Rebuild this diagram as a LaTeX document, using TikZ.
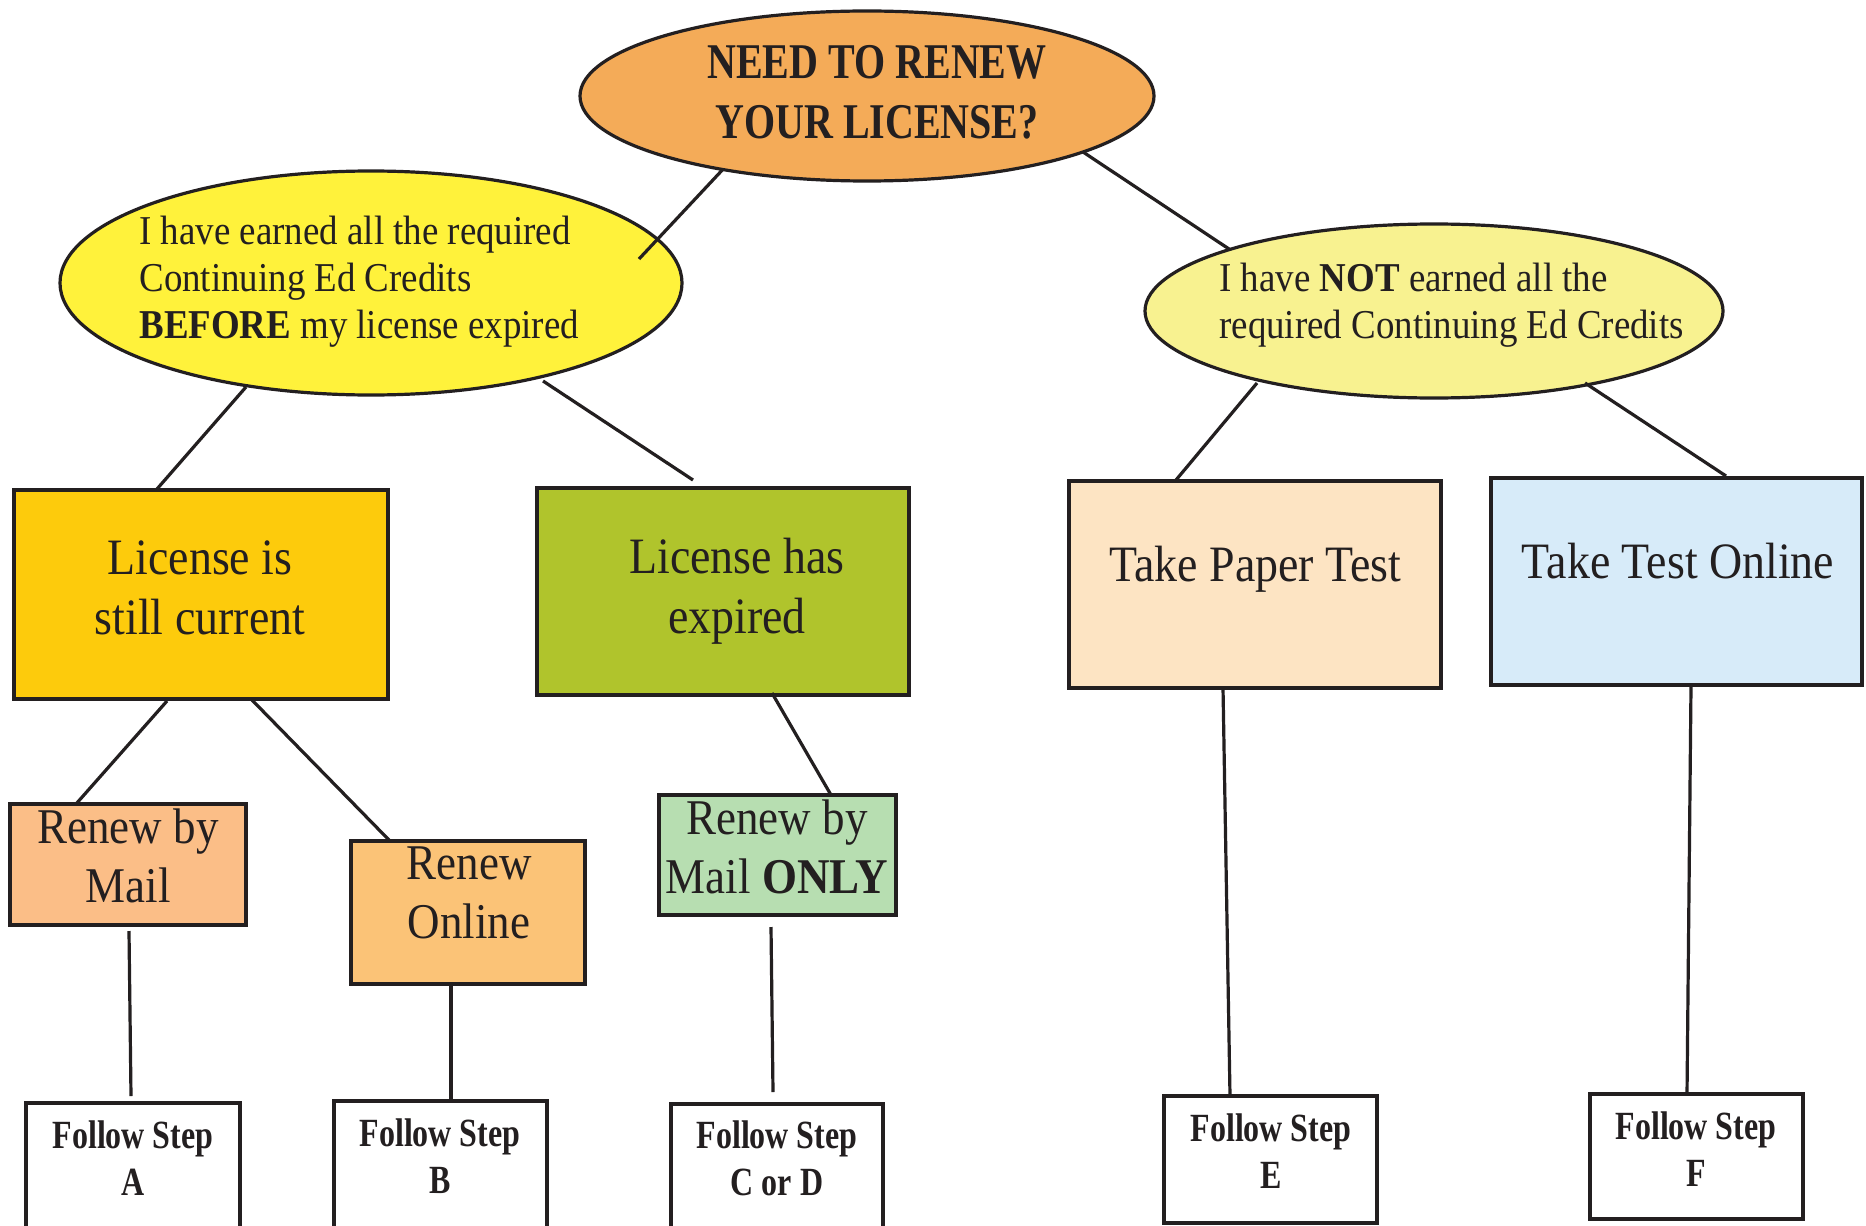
\documentclass[tikz,border=0pt]{standalone}
\usepackage{fontspec}
\setmainfont{Liberation Serif}[FakeStretch=0.9]
\newfontfamily\condfont{Liberation Serif}[FakeStretch=0.8]
\usetikzlibrary{shapes.geometric,calc}
\definecolor{ink}{HTML}{231F20}
\definecolor{cTop}{HTML}{F4AB58}
\definecolor{cYel}{HTML}{FFF23B}
\definecolor{cPale}{HTML}{F8F290}
\definecolor{cCur}{HTML}{FDCB0C}
\definecolor{cExp}{HTML}{B0C42C}
\definecolor{cPap}{HTML}{FDE4C3}
\definecolor{cOnl}{HTML}{D7EBF9}
\definecolor{cMail}{HTML}{FBBE87}
\definecolor{cRon}{HTML}{FBC377}
\definecolor{cOnly}{HTML}{B7DEB1}
\begin{document}
\begin{tikzpicture}[x=0.5pt,y=-0.5pt,
  ell/.style={ellipse, draw=ink, line width=1.6pt, inner sep=0pt, outer sep=0pt},
  boxshape/.style={rectangle, draw=ink, line width=1.6pt, inner sep=0pt, outer sep=0pt},
  link/.style={draw=ink, line width=1.6pt},
  txt/.style={inner sep=0pt, align=center, text=ink},
  bigtxt/.style={txt, font=\fontsize{25.5pt}{30pt}\selectfont},
  smalltxt/.style={txt, font=\fontsize{25pt}{29.5pt}\selectfont},
  elltxt/.style={txt, align=left, anchor=west, font=\fontsize{20.5pt}{23.5pt}\selectfont},
  steptxt/.style={txt, font=\condfont\bfseries\fontsize{20pt}{23.5pt}\selectfont}]
\useasboundingbox (0,0) rectangle (1866,1225);
\clip (0,0) rectangle (1866,1225);
\fill[white] (0,0) rectangle (1866,1225);

% ellipses
\node[ell, fill=cTop, minimum width=287pt, minimum height=85pt] (e0) at (867,96) {};
\node[ell, fill=cYel, minimum width=311pt, minimum height=112pt] (eL) at (371,283) {};
\node[ell, fill=cPale, minimum width=289pt, minimum height=87pt] (eR) at (1434,311) {};

% boxes
\node[boxshape, fill=cCur, minimum width=187pt, minimum height=104.5pt] (b1) at (201,594.5) {};
\node[boxshape, fill=cExp, minimum width=186pt, minimum height=103.5pt] (b2) at (723,591.5) {};
\node[boxshape, fill=cPap, minimum width=186pt, minimum height=103.5pt] (b3) at (1255,584.5) {};
\node[boxshape, fill=cOnl, minimum width=185.5pt, minimum height=103.5pt] (b4) at (1676.5,581.5) {};
\node[boxshape, fill=cMail, minimum width=118pt, minimum height=60.5pt] (b5) at (128,864.5) {};
\node[boxshape, fill=cRon, minimum width=117pt, minimum height=71.5pt] (b6) at (468,912.5) {};
\node[boxshape, fill=cOnly, minimum width=118.5pt, minimum height=60pt] (b7) at (777.5,855) {};
\node[boxshape, fill=white, minimum width=107pt, minimum height=68.5pt] (sA) at (133,1171.5) {};
\node[boxshape, fill=white, minimum width=106.5pt, minimum height=69.5pt] (sB) at (440.5,1170.5) {};
\node[boxshape, fill=white, minimum width=106pt, minimum height=68pt] (sC) at (777,1172) {};
\node[boxshape, fill=white, minimum width=106.5pt, minimum height=63.5pt] (sE) at (1270.5,1159.5) {};
\node[boxshape, fill=white, minimum width=106.5pt, minimum height=62.5pt] (sF) at (1696.5,1156.5) {};

% texts
\node[txt, font=\condfont\bfseries\fontsize{25pt}{30pt}\selectfont] (t0) at (877,92) {NEED TO RENEW\\YOUR LICENSE?};
\node[elltxt] (tL) at (139,281.5) {I have earned all the required\\Continuing Ed Credits\\\textbf{BEFORE} my license expired};
\node[elltxt] (tR) at (1219,305) {I have \textbf{NOT} earned all the\\required Continuing Ed Credits};
\node[bigtxt] (t1) at (200,588) {License is\\still current};
\node[bigtxt] (t2) at (737,591) {License has\\expired};
\node[bigtxt] (t3) at (1255.5,569) {Take Paper Test};
\node[bigtxt] (t4) at (1678,561) {Take Test Online};
\node[smalltxt] (t5) at (128,856) {Renew by\\Mail};
\node[smalltxt] (t6) at (469,893) {Renew\\Online};
\node[smalltxt] (t7) at (777,847) {Renew by\\Mail \textbf{ONLY}};
\node[steptxt] (tA) at (133,1158) {Follow Step\\A};
\node[steptxt] (tB) at (440,1156) {Follow Step\\B};
\node[steptxt] (tC) at (777,1158) {Follow Step\\C or D};
\node[steptxt] (tE) at (1271,1151) {Follow Step\\E};
\node[steptxt] (tF) at (1696,1149) {Follow Step\\F};

% connectors
\draw[link] (e0.207) -- ($(eL.center)+(268,-24)$);
\draw[link] ($(e0.center)+(216,56)$) -- ($(eR.center)+(-205,-62)$);
\draw[link] ($(eL.center)+(-125,104)$) -- ($(b1.center)+(-44,-105.5)$);
\draw[link] ($(eL.center)+(172,98)$) -- ($(b2.center)+(-30,-111.5)$);
\draw[link] ($(eR.center)+(-177,72)$) -- ($(b3.center)+(-79,-104.5)$);
\draw[link] ($(eR.center)+(151,72)$) -- ($(b4.center)+(49.5,-105.5)$);
\draw[link] ($(b1.center)+(-34,106.5)$) -- ($(b5.center)+(-52,-60.5)$);
\draw[link] ($(b1.center)+(51,105.5)$) -- ($(b6.center)+(-79,-72.5)$);
\draw[link] ($(b2.center)+(49,101.5)$) -- ($(b7.center)+(53.5,-60)$);
\draw[link] ($(b5.center)+(1,66.5)$) -- ($(sA.center)+(-2,-75.5)$);
\draw[link] ($(b6.center)+(-17,69.5)$) -- ($(sB.center)+(10.5,-69.5)$);
\draw[link] ($(b7.center)+(-6.5,72)$) -- ($(sC.center)+(-4,-80)$);
\draw[link] ($(b3.center)+(-32,103.5)$) -- ($(sE.center)+(-40.5,-63.5)$);
\draw[link] ($(b4.center)+(14.5,103.5)$) -- ($(sF.center)+(-9.5,-62.5)$);
\end{tikzpicture}
\end{document}
